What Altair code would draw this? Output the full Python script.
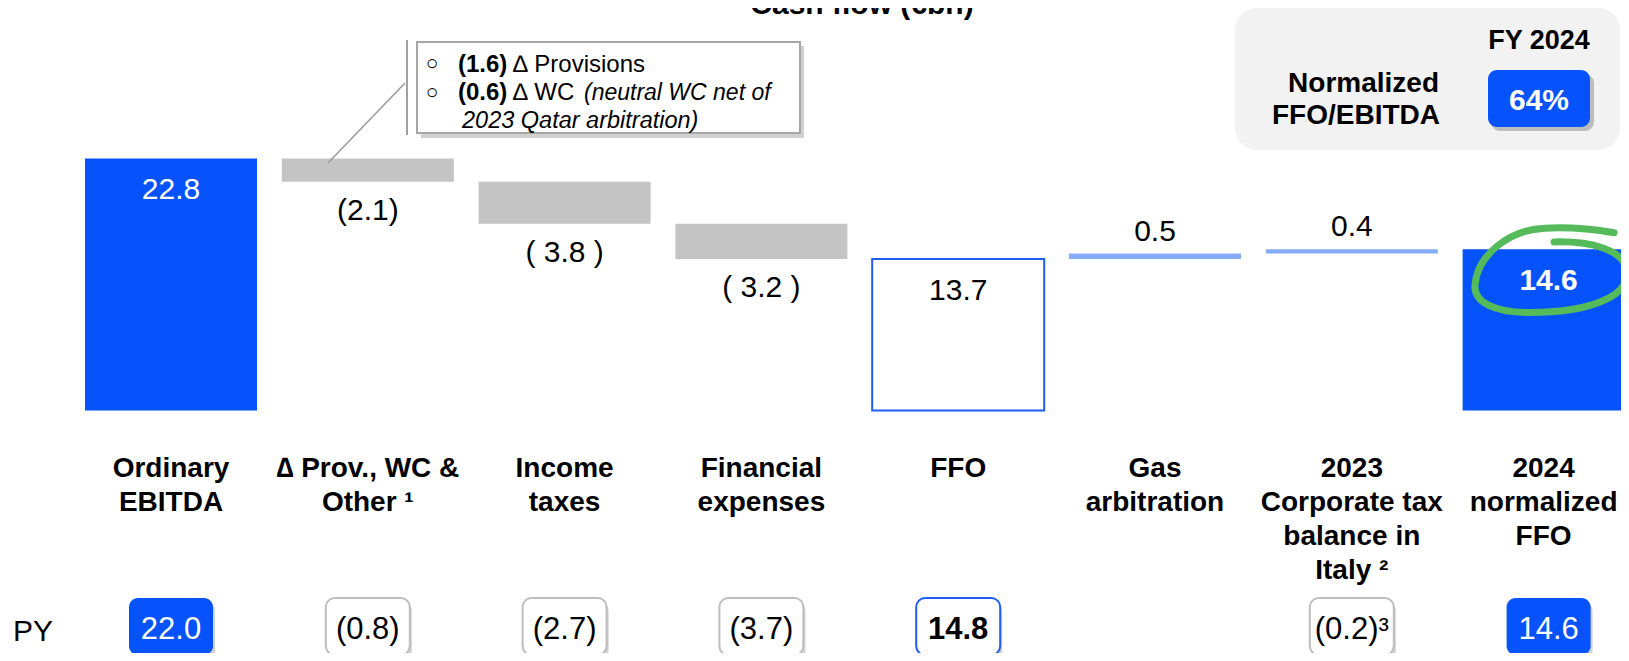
import altair as alt
import pandas as pd

# ---------------- data ----------------
categories = ["Ordinary EBITDA", "∆ Prov., WC & Other", "Income taxes", "Financial expenses",
              "FFO", "Gas arbitration", "2023 Corporate tax balance in Italy", "2024 normalized FFO"]
category_lines = ["Ordinary\nEBITDA", "∆ Prov., WC &\nOther ¹", "Income\ntaxes", "Financial\nexpenses",
                  "FFO", "Gas\narbitration", "2023\nCorporate tax\nbalance in\nItaly ²", "2024\nnormalized\nFFO"]
values = [22.8, -2.1, -3.8, -3.2, 13.7, 0.5, 0.4, 14.6]
value_labels = ["22.8", "(2.1)", "( 3.8 )", "( 3.2 )", "13.7", "0.5", "0.4", "14.6"]
kinds = ["total", "delta", "delta", "delta", "subtotal", "delta", "delta", "total"]
py_values = [22.0, -0.8, -2.7, -3.7, 14.8, None, -0.2, 14.6]
py_labels = ["22.0", "(0.8)", "(2.7)", "(3.7)", "14.8", "", "(0.2)³", "14.6"]
title_text = "Cash flow (€bn)"
kpi_period = "FY 2024"
kpi_name = ["Normalized", "FFO/EBITDA"]
kpi_value = "64%"

# ---------------- layout / style ----------------
BLUE = "#0652FB"
LIGHT = "#86ABF7"
GREY = "#C4C4C4"
FONT = "Liberation Sans"
W, H = 1613, 645
X0, STEP, Y0, PPU = 171.0, 196.8, 410.5, 11.05
HW = 86 / STEP
PY_HW = 42 / STEP


def u(px):
    return (px - X0) / STEP


def v(py):
    return (Y0 - py) / PPU


xs = alt.Scale(domain=[u(8), u(8 + W)], nice=False, zero=False)
ys = alt.Scale(domain=[v(8 + H), v(8)], nice=False, zero=False)


def XD(px):
    return alt.XDatum(u(px), scale=xs, axis=None)


def YD(py):
    return alt.YDatum(v(py), scale=ys, axis=None)


one = pd.DataFrame({"a": [0]})

# waterfall table
rows = []
run = 0.0
for i, (c, ln, val, k, lab) in enumerate(zip(categories, category_lines, values, kinds, value_labels)):
    if k in ("total", "subtotal"):
        s, e = 0.0, val
        run = val
        kk = k
    else:
        s, e = run, run + val
        run = e
        kk = "neg" if val < 0 else "pos"
    top, bot = max(s, e), min(s, e)
    if kk in ("total", "subtotal"):
        ly = top - 31.7 / PPU
    elif kk == "neg":
        ly = bot - 29 / PPU
    else:
        ly = top + 21.8 / PPU
    rows.append(dict(idx=i, cat=c, lines=ln, top=top, bot=bot, kind=kk, label=lab, ly=ly,
                     x_lo=i - HW, x_hi=i + HW))
df = pd.DataFrame(rows)

py_rows = []
for i, (pv, pl, k) in enumerate(zip(py_values, py_labels, kinds)):
    if pv is None:
        continue
    py_rows.append(dict(idx=i, label=pl, kind=k, x_lo=i - PY_HW, x_hi=i + PY_HW,
                        s_lo=i - PY_HW + 2 / STEP, s_hi=i + PY_HW + 2 / STEP))
pdf = pd.DataFrame(py_rows)

base = alt.Chart(df)
bx = dict(x=alt.X("x_lo:Q", scale=xs, axis=None), x2="x_hi:Q",
          y=alt.Y("bot:Q", scale=ys, axis=None), y2="top:Q")

layers = []

# bars
layers.append(base.transform_filter("datum.kind == 'total'").mark_rect(color=BLUE).encode(**bx))
layers.append(base.transform_filter("datum.kind == 'neg'").mark_rect(color=GREY).encode(**bx))
layers.append(base.transform_filter("datum.kind == 'pos'").mark_rect(color=LIGHT).encode(**bx))
layers.append(base.transform_filter("datum.kind == 'subtotal'").mark_rect(
    fill="white", stroke="#1F5CF2", strokeWidth=2).encode(**bx))

# value labels
lx = dict(x=alt.X("idx:Q", scale=xs, axis=None), y=alt.Y("ly:Q", scale=ys, axis=None), text="label:N")
layers.append(base.transform_filter("datum.idx == 0").mark_text(
    font=FONT, fontSize=30, color="white", baseline="middle").encode(**lx))
layers.append(base.transform_filter("datum.idx == 7").mark_text(
    font=FONT, fontSize=30, fontWeight="bold", color="white", baseline="middle").encode(**lx))
layers.append(base.transform_filter("datum.kind != 'total'").mark_text(
    font=FONT, fontSize=30, color="#000", baseline="middle").encode(**lx))

# category labels
cat_enc = dict(x=alt.X("idx:Q", scale=xs, axis=None), y=YD(455), text="lines:N")
cat_style = dict(font=FONT, fontSize=28, fontWeight="bold", baseline="top",
                 lineBreak="\n", lineHeight=34, color="#000")
layers.append(base.transform_filter("datum.idx < 7").mark_text(**cat_style).encode(**cat_enc))
layers.append(base.transform_filter("datum.idx == 7").mark_text(dx=-5, **cat_style).encode(**cat_enc))

# PY row
pbase = alt.Chart(pdf)
pyy = dict(y=YD(598), y2=alt.Y2Datum(v(655)))
layers.append(pbase.mark_rect(color="#7A7A7A", opacity=0.35, cornerRadius=9).encode(
    x=alt.X("s_lo:Q", scale=xs, axis=None), x2="s_hi:Q", y=YD(602), y2=alt.Y2Datum(v(660))))
px_ = dict(x=alt.X("x_lo:Q", scale=xs, axis=None), x2="x_hi:Q")
layers.append(pbase.transform_filter("datum.kind == 'total'").mark_rect(
    color=BLUE, cornerRadius=9).encode(**px_, **pyy))
layers.append(pbase.transform_filter("datum.kind == 'subtotal'").mark_rect(
    fill="white", stroke="#1F5CF2", strokeWidth=2, cornerRadius=9).encode(**px_, **pyy))
layers.append(pbase.transform_filter("datum.kind == 'delta'").mark_rect(
    fill="white", stroke="#BDBDBD", strokeWidth=2, cornerRadius=9).encode(**px_, **pyy))
ptx = dict(x=alt.X("idx:Q", scale=xs, axis=None), y=YD(630), text="label:N")
layers.append(pbase.transform_filter("datum.kind == 'total'").mark_text(
    font=FONT, fontSize=31, color="white", baseline="middle").encode(**ptx))
layers.append(pbase.transform_filter("datum.kind == 'subtotal'").mark_text(
    font=FONT, fontSize=31, fontWeight="bold", color="#000", baseline="middle").encode(**ptx))
layers.append(pbase.transform_filter("datum.kind == 'delta'").mark_text(
    font=FONT, fontSize=31, color="#000", baseline="middle").encode(**ptx))


def label(text, px, py, size, weight="normal", align="center", color="#000",
          style="normal", baseline="middle"):
    return alt.Chart(one).mark_text(text=text, font=FONT, fontSize=size, fontWeight=weight,
                                    align=align, color=color, fontStyle=style,
                                    baseline=baseline).encode(x=XD(px), y=YD(py))


def box(x1, y1, x2, y2, **kw):
    return alt.Chart(one).mark_rect(**kw).encode(x=XD(x1), x2=alt.X2Datum(u(x2)),
                                                  y=YD(y1), y2=alt.Y2Datum(v(y2)))


def rule(x1, y1, x2, y2, **kw):
    return alt.Chart(one).mark_rule(**kw).encode(x=XD(x1), x2=alt.X2Datum(u(x2)),
                                                  y=YD(y1), y2=alt.Y2Datum(v(y2)))


layers.append(label("PY", 13, 632, 30, align="left"))

# title (cut at the top as in the source)
layers.append(label(title_text, 862, 14, 30, weight="bold", baseline="alphabetic"))

# callout
layers.append(rule(407, 40, 407, 135, color="#A0A0A0", strokeWidth=2))
layers.append(rule(405, 83, 328, 163, color="#9A9A9A", strokeWidth=1.5))
layers.append(box(421, 46, 804, 138, color="#8A8A8A", opacity=0.4))
layers.append(box(417, 42, 800, 133, fill="white", stroke="#A6A6A6", strokeWidth=2))
layers.append(label("○", 432, 64, 21))
layers.append(label("○", 432, 93, 21))
layers.append(label("(1.6)", 458, 64.5, 24, weight="bold", align="left"))
layers.append(label("∆ Provisions", 513, 64.5, 24, align="left"))
layers.append(label("(0.6)", 458, 93, 24, weight="bold", align="left"))
layers.append(label("∆ WC", 513, 93, 24, align="left"))
layers.append(label("(neutral WC net of", 584, 93, 23, align="left", style="italic"))
layers.append(label("2023 Qatar arbitration)", 462, 120.5, 23.5, align="left", style="italic"))

# KPI panel
layers.append(box(1235, 8, 1620, 150, color="#F2F2F2", cornerRadius=22))
layers.append(label(kpi_period, 1539, 40.5, 27, weight="bold"))
layers.append(label(kpi_name[0], 1439, 83.5, 28, weight="bold", align="right"))
layers.append(label(kpi_name[1], 1440, 115.5, 28, weight="bold", align="right"))
layers.append(box(1491, 74, 1594, 131, color="#6E6E6E", opacity=0.4, cornerRadius=9))
layers.append(box(1488, 70, 1590, 127, color=BLUE, cornerRadius=9))
layers.append(label(kpi_value, 1539, 100.5, 30, weight="bold", color="white"))

# hand-drawn highlight around the final value
loop = ("M 0.04 -0.37 C 0.5 -0.38 0.98 -0.28 1.0 0.03 C 1.02 0.35 0.5 0.56 -0.28 0.56 "
        "C -0.75 0.56 -1.02 0.42 -1.0 0.2 C -0.97 -0.2 -0.55 -0.53 -0.08 -0.55 "
        "C 0.3 -0.57 0.6 -0.53 0.83 -0.49")
layers.append(alt.Chart(one).mark_point(shape=loop, size=152 * 152, filled=False,
                                        stroke="#55BB5A", strokeWidth=7, strokeCap="round",
                                        opacity=1).encode(x=XD(1551), y=YD(270)))

chart = alt.layer(*layers).properties(
    width=W, height=H, padding=0, autosize=alt.AutoSizeParams(type="none")
).configure_view(stroke=None)

chart.save("out.html", embed_options={"renderer": "svg", "actions": False})
